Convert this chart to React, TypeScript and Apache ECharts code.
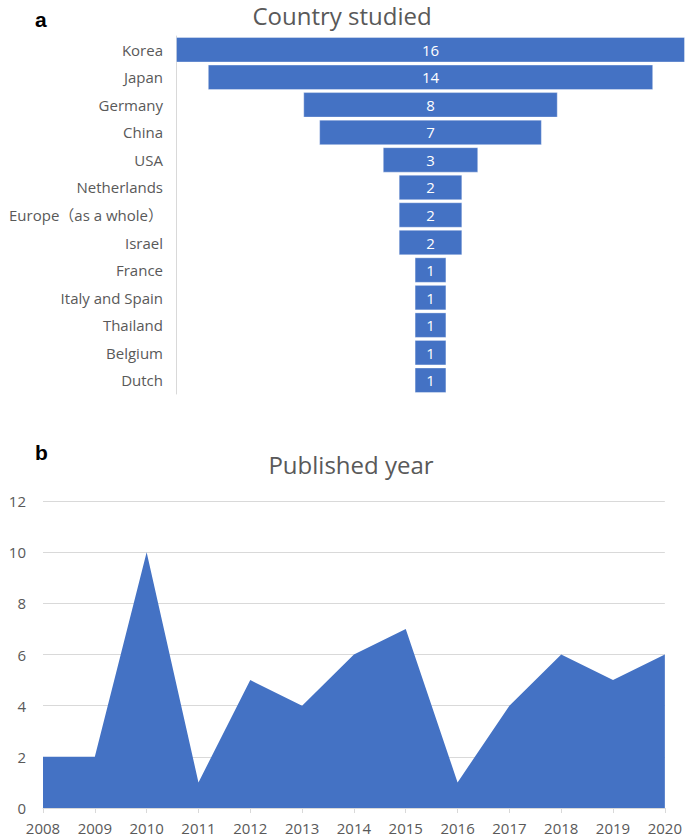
import React, { useEffect, useRef } from "react";
import * as echarts from "echarts";

const countries = [
  "Korea",
  "Japan",
  "Germany",
  "China",
  "USA",
  "Netherlands",
  "Europe（as a whole）",
  "Israel",
  "France",
  "Italy and Spain",
  "Thailand",
  "Belgium",
  "Dutch",
];
const countryCounts = [16, 14, 8, 7, 3, 2, 2, 2, 1, 1, 1, 1, 1];

const years = ["2008", "2009", "2010", "2011", "2012", "2013", "2014", "2015", "2016", "2017", "2018", "2019", "2020"];
const yearCounts = [2, 2, 10, 1, 5, 4, 6, 7, 1, 4, 6, 5, 6];

const BLUE = "#4472C4";
const GREY_TEXT = "#595959";
const GRID = "#d9d9d9";
const FONT = "'Open Sans', 'Noto Sans', 'Noto Sans CJK SC', sans-serif";

export default function App() {
  const ref = useRef<HTMLDivElement>(null);
  useEffect(() => {
    if (!ref.current) return;
    const chart = echarts.init(ref.current, undefined, { renderer: "svg" });
    const maxCount = Math.max(...countryCounts);
    const offsets = countryCounts.map((v) => (maxCount - v) / 2);
    chart.setOption({
      animation: false,
      textStyle: { fontFamily: FONT },
      graphic: [
        {
          type: "text",
          left: 35,
          top: 9,
          style: { text: "a", font: "bold 21px 'Liberation Sans', Arial, sans-serif", fill: "#000" },
        },
        {
          type: "text",
          left: 35,
          top: 442,
          style: { text: "b", font: "bold 21px 'Liberation Sans', Arial, sans-serif", fill: "#000" },
        },
        {
          type: "text",
          x: 342,
          y: 15,
          style: {
            text: "Country studied",
            font: `24px ${FONT}`,
            fill: GREY_TEXT,
            align: "center",
            verticalAlign: "middle",
          },
        },
        {
          type: "text",
          x: 351,
          y: 464,
          style: {
            text: "Published year",
            font: `24px ${FONT}`,
            fill: GREY_TEXT,
            align: "center",
            verticalAlign: "middle",
          },
        },
      ],
      grid: [
        { left: 176, top: 36, width: 509, height: 358 },
        { left: 43, right: 20, top: 501, bottom: 30 },
      ],
      xAxis: [
        { gridIndex: 0, type: "value", min: 0, max: 16, show: false },
        {
          gridIndex: 1,
          type: "category",
          data: years,
          boundaryGap: false,
          axisLine: { lineStyle: { color: GRID } },
          axisTick: { show: true, length: 5, lineStyle: { color: GRID } },
          axisLabel: { color: GREY_TEXT, fontSize: 15, margin: 11, interval: 0, lineHeight: 17 },
        },
      ],
      yAxis: [
        {
          gridIndex: 0,
          type: "category",
          data: countries,
          inverse: true,
          axisLine: { show: true, lineStyle: { color: GRID } },
          axisTick: { show: false },
          axisLabel: { color: GREY_TEXT, fontSize: 15, margin: 13 },
        },
        {
          gridIndex: 1,
          type: "value",
          min: 0,
          max: 12,
          interval: 2,
          axisLine: { show: false },
          axisTick: { show: false },
          axisLabel: { color: GREY_TEXT, fontSize: 15, margin: 17 },
          splitLine: { lineStyle: { color: GRID } },
        },
      ],
      series: [
        {
          type: "bar",
          xAxisIndex: 0,
          yAxisIndex: 0,
          stack: "funnel",
          data: offsets,
          itemStyle: { color: "transparent" },
          barWidth: 25.5,
          silent: true,
        },
        {
          type: "bar",
          xAxisIndex: 0,
          yAxisIndex: 0,
          stack: "funnel",
          data: countryCounts,
          barWidth: 25.5,
          itemStyle: { color: BLUE, borderColor: "rgba(255,255,255,0.35)", borderWidth: 1 },
          label: { show: true, position: "inside", color: "#fff", fontSize: 15 },
        },
        {
          type: "line",
          xAxisIndex: 1,
          yAxisIndex: 1,
          data: yearCounts,
          showSymbol: false,
          symbol: "none",
          lineStyle: { width: 0, color: BLUE },
          areaStyle: { color: BLUE, opacity: 1 },
        },
      ],
    });
    return () => chart.dispose();
  }, []);
  return (
    <div
      ref={ref}
      style={{ position: "absolute", left: 0, top: 0, width: 685, height: 838 }}
    />
  );
}
